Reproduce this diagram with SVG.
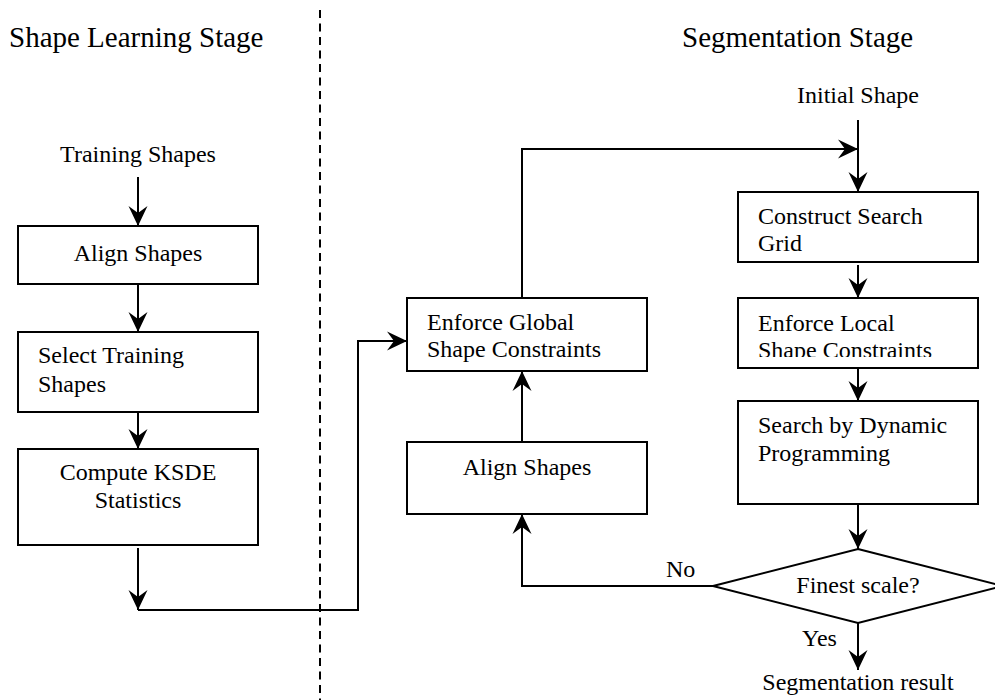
<svg xmlns="http://www.w3.org/2000/svg" width="995" height="700" viewBox="0 0 995 700">
<style>
  text { font-family: "Liberation Serif", "Times New Roman", serif; fill: #000; }
  .title { font-size: 29px; }
  .lbl { font-size: 24px; }
  .mid { text-anchor: middle; }
  .box { fill: #fff; stroke: #000; stroke-width: 2; }
  .conn { fill: none; stroke: #000; stroke-width: 2; }
  .divider { fill: none; stroke: #000; stroke-width: 2; stroke-dasharray: 8 5.5; }
</style>
<defs>
  <marker id="arr" markerUnits="userSpaceOnUse" markerWidth="24" markerHeight="24" viewBox="-22 -12 24 24" refX="0" refY="0" orient="auto" overflow="visible">
    <path d="M0,0 L-20,-9.5 L-13,0 L-20,9.5 Z" fill="#000"/>
  </marker>
  <clipPath id="clipLocal"><rect x="738" y="298" width="240" height="59"/></clipPath>
</defs>

<line class="divider" x1="320" y1="10" x2="320" y2="700"/>

<text class="title" x="9" y="47">Shape Learning Stage</text>
<text class="title" x="682" y="47">Segmentation Stage</text>

<g id="connectors">
  <path class="conn" d="M138,177 V226" marker-end="url(#arr)"/>
  <path class="conn" d="M138,284 V332" marker-end="url(#arr)"/>
  <path class="conn" d="M138,412 V449" marker-end="url(#arr)"/>
  <path class="conn" d="M138,548 V610" marker-end="url(#arr)"/>
  <path class="conn" d="M138,610 H358 V341 H407" marker-end="url(#arr)"/>
  <path class="conn" d="M522,298 V149 H858" marker-end="url(#arr)"/>
  <path class="conn" d="M858,120 V192" marker-end="url(#arr)"/>
  <path class="conn" d="M858,265 V298" marker-end="url(#arr)"/>
  <path class="conn" d="M858,368 V401" marker-end="url(#arr)"/>
  <path class="conn" d="M858,504 V549" marker-end="url(#arr)"/>
  <path class="conn" d="M522,442 V371" marker-end="url(#arr)"/>
  <path class="conn" d="M713,586 H522 V514" marker-end="url(#arr)"/>
  <path class="conn" d="M858,623 V670" marker-end="url(#arr)"/>
  <text class="lbl" x="666" y="577">No</text>
  <text class="lbl" x="802" y="646">Yes</text>
</g>

<g id="training-shapes">
  <text class="lbl mid" x="138" y="162">Training Shapes</text>
</g>

<g id="align-shapes-learn">
  <rect class="box" x="18" y="226" width="240" height="58"/>
  <text class="lbl mid" x="138" y="261">Align Shapes</text>
</g>

<g id="select-training">
  <rect class="box" x="18" y="332" width="240" height="80"/>
  <text class="lbl" x="38" y="363">Select Training</text>
  <text class="lbl" x="38" y="392">Shapes</text>
</g>

<g id="compute-ksde">
  <rect class="box" x="18" y="449" width="240" height="96"/>
  <text class="lbl mid" x="138" y="480">Compute KSDE</text>
  <text class="lbl mid" x="138" y="508">Statistics</text>
</g>

<g id="enforce-global">
  <rect class="box" x="407" y="298" width="240" height="73"/>
  <text class="lbl" x="427" y="330">Enforce Global</text>
  <text class="lbl" x="427" y="357">Shape Constraints</text>
</g>

<g id="align-shapes-seg">
  <rect class="box" x="407" y="442" width="240" height="72"/>
  <text class="lbl mid" x="527" y="475">Align Shapes</text>
</g>

<g id="initial-shape">
  <text class="lbl mid" x="858" y="103">Initial Shape</text>
</g>

<g id="construct-grid">
  <rect class="box" x="738" y="192" width="240" height="70"/>
  <text class="lbl" x="758" y="224">Construct Search</text>
  <text class="lbl" x="758" y="251">Grid</text>
</g>

<g id="enforce-local">
  <rect class="box" x="738" y="298" width="240" height="70"/>
  <text class="lbl" x="758" y="331">Enforce Local</text>
  <text class="lbl" x="758" y="358" clip-path="url(#clipLocal)">Shape Constraints</text>
</g>

<g id="search-dp">
  <rect class="box" x="738" y="401" width="240" height="103"/>
  <text class="lbl" x="758" y="433">Search by Dynamic</text>
  <text class="lbl" x="758" y="461">Programming</text>
</g>

<g id="finest-scale">
  <polygon class="box" points="858,549 1003,586 858,623 713,586"/>
  <text class="lbl mid" x="858" y="593">Finest scale?</text>
</g>

<g id="segmentation-result">
  <text class="lbl mid" x="858" y="690">Segmentation result</text>
</g>
</svg>
